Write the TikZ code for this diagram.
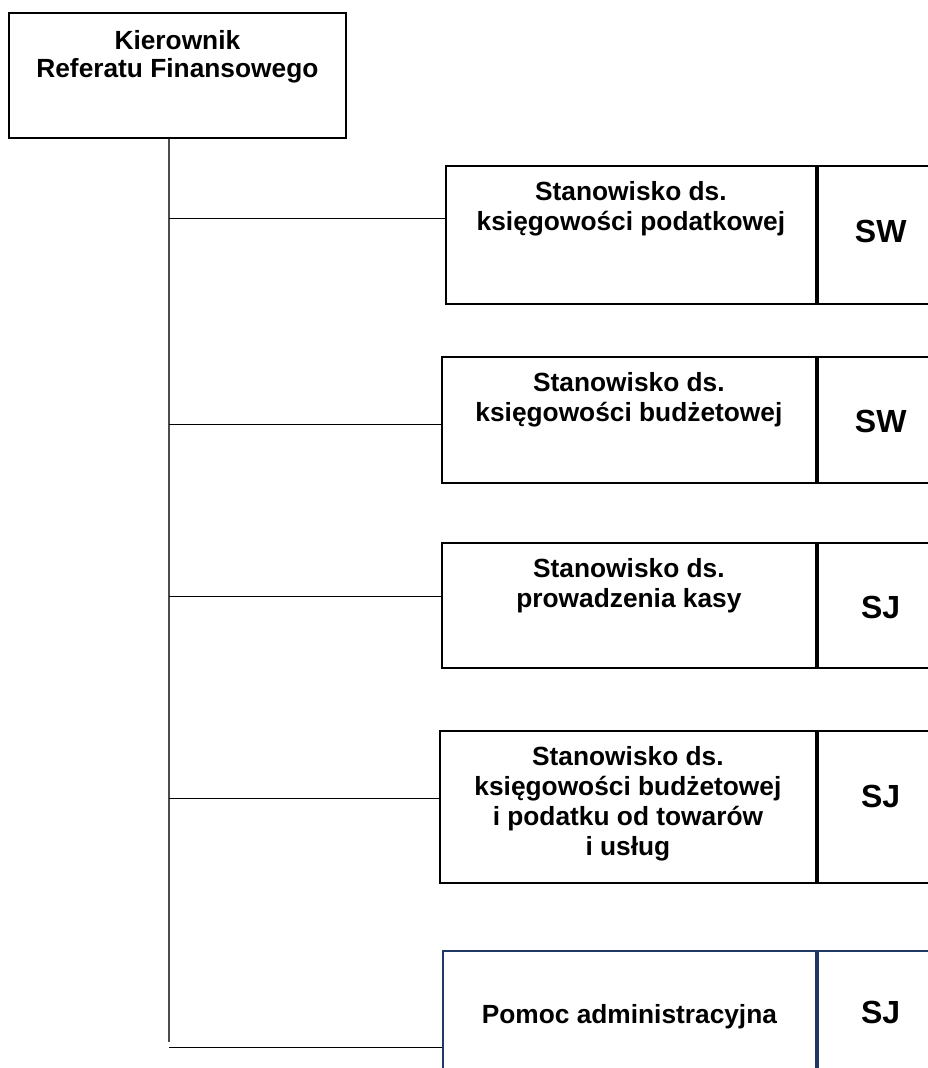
\documentclass[tikz,border=0pt]{standalone}
\usepackage{fontspec}
\setmainfont{Liberation Sans}
\usetikzlibrary{positioning}

\definecolor{navyline}{RGB}{31,56,100}

\tikzset{
  unit/.style={draw, line width=1.8pt, inner sep=0pt, anchor=north west},
  title/.style={anchor=north, align=center, inner sep=0pt, font=\bfseries\fontsize{26.3}{30}\selectfont},
  grade/.style={anchor=base, inner sep=0pt, font=\bfseries\fontsize{32}{32}\selectfont},
  link/.style={line width=1pt},
  trunkline/.style={line width=1.3pt, draw=black!70},
}

\begin{document}
\begin{tikzpicture}[x=1pt, y=-1pt]
\clip (0,0) rectangle (928,1068);

% head of the unit
\node (boss) [unit, minimum width=337pt, minimum height=125pt] at (8,12) {};
\node (bosstext) [title, font=\bfseries\fontsize{26.3}{28}\selectfont] at ([yshift=-18pt]boss.north) {Kierownik\\Referatu Finansowego};

% posts
\node (pos1) [unit, minimum width=370pt, minimum height=138pt] at (445,165) {};
\node (grade1) [unit, minimum width=126pt, minimum height=138pt, right=0pt of pos1] {};
\node (title1) [title] at ([yshift=-16pt]pos1.north) {Stanowisko ds.\\księgowości podatkowej};
\node (sw1) [grade] at ([yshift=-77pt]grade1.north) {SW};

\node (pos2) [unit, minimum width=374pt, minimum height=126pt] at (441,356) {};
\node (grade2) [unit, minimum width=126pt, minimum height=126pt, right=0pt of pos2] {};
\node (title2) [title] at ([yshift=-16pt]pos2.north) {Stanowisko ds.\\księgowości budżetowej};
\node (sw2) [grade] at ([yshift=-76pt]grade2.north) {SW};

\node (pos3) [unit, minimum width=374pt, minimum height=125pt] at (441,542) {};
\node (grade3) [unit, minimum width=126pt, minimum height=125pt, right=0pt of pos3] {};
\node (title3) [title] at ([yshift=-16pt]pos3.north) {Stanowisko ds.\\prowadzenia kasy};
\node (sj3) [grade] at ([yshift=-76pt]grade3.north) {SJ};

\node (pos4) [unit, minimum width=376pt, minimum height=152pt] at (439,730) {};
\node (grade4) [unit, minimum width=126pt, minimum height=152pt, right=0pt of pos4] {};
\node (title4) [title] at ([yshift=-16.5pt]pos4.north) {Stanowisko ds.\\księgowości budżetowej\\i podatku od towarów\\i usług};
\node (sj4) [grade] at ([yshift=-77pt]grade4.north) {SJ};

\node (pos5) [unit, draw=navyline, minimum width=373pt, minimum height=130pt] at (442,950) {};
\node (grade5) [unit, draw=navyline, minimum width=126pt, minimum height=130pt, right=0pt of pos5] {};
\node (title5) [grade, font=\bfseries\fontsize{26.3}{30}\selectfont] at ([yshift=-73pt]pos5.north) {Pomoc administracyjna};
\node (sj5) [grade] at ([yshift=-73pt]grade5.north) {SJ};

% connectors
\coordinate (trunk) at (169,1042);
\coordinate (j1) at (169,218);
\coordinate (j2) at (169,424);
\coordinate (j3) at (169,596);
\coordinate (j4) at (169,798);
\coordinate (j5) at (169,1047);
\draw[trunkline] (boss.south -| trunk) -- (trunk);
\draw[link] (j1) -- (j1 -| pos1.west);
\draw[link] (j2) -- (j2 -| pos2.west);
\draw[link] (j3) -- (j3 -| pos3.west);
\draw[link] (j4) -- (j4 -| pos4.west);
\draw[link] (j5) -- (j5 -| pos5.west);
\end{tikzpicture}
\end{document}
